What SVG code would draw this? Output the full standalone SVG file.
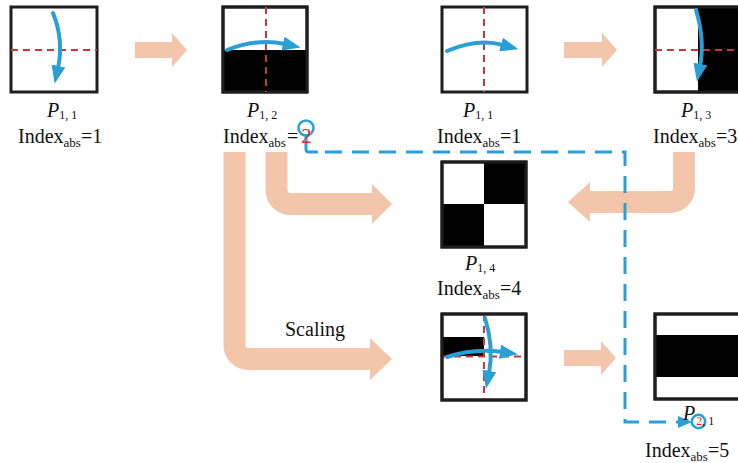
<svg xmlns="http://www.w3.org/2000/svg" width="738" height="463" viewBox="0 0 738 463">
<style>
.box{fill:#fff;stroke:#1e1e1e;stroke-width:3}
.blk{fill:#000}
.red{stroke:#c23a3e;stroke-width:2;stroke-dasharray:7 5;fill:none}
.barr{fill:none;stroke:#2a9fd6;stroke-width:4;stroke-linecap:round}
.peach{fill:#f3c6ab}
.pstroke{fill:none;stroke:#f3c6ab;stroke-width:22}
.t{font-family:'Liberation Serif','Times New Roman',serif;font-size:20px;fill:#111}
.sub{font-size:13px}
.psub{font-size:12px}
.it{font-style:italic}
.r{fill:#ff1a1a}
.conn{fill:none;stroke:#2a9fd6;stroke-width:3}
</style>
<defs>
<marker id="bh" markerUnits="userSpaceOnUse" markerWidth="20" markerHeight="16" viewBox="0 -8 20 16" refX="2" refY="0" orient="auto">
<path d="M0,-7 L18,0 L0,7 z" fill="#2a9fd6"/>
</marker>
<marker id="ch" markerUnits="userSpaceOnUse" markerWidth="16" markerHeight="14" viewBox="0 -7 16 14" refX="0" refY="0" orient="auto">
<path d="M0,-6 L14,0 L0,6 z" fill="#2a9fd6"/>
</marker>
</defs>
<rect width="738" height="463" fill="#fff"/>

<g id="connectors">
<polygon class="peach" points="135,42 172,42 172,33 187,50 172,67 172,58 135,58"/>
<polygon class="peach" points="564,42 602,42 602,33 617,50 602,67 602,58 564,58"/>
<polygon class="peach" points="564,350 601,350 601,341 616,358 601,375 601,366 564,366"/>
<path class="pstroke" d="M234.5,152 V345 A14,14 0 0 0 248.5,359 H372"/>
<polygon class="peach" points="370,338 392,359 370,380"/>
<path class="pstroke" d="M276.5,152 V190 A14,14 0 0 0 290.5,204 H374"/>
<polygon class="peach" points="372,184 392,204 372,224"/>
<path class="pstroke" d="M684,152 V188 A14,14 0 0 1 670,202 H588"/>
<polygon class="peach" points="590,182 568,202 590,222"/>
<circle cx="306" cy="128" r="7.5" fill="none" stroke="#2a9fd6" stroke-width="2.5"/>
<path class="conn" d="M306,135.5 V149 Q306,152 309,152 H318"/>
<path class="conn" stroke-dasharray="17 10" d="M325,152 H625 V422 H678" marker-end="url(#ch)"/>
<circle cx="698.5" cy="421.5" r="6.7" fill="none" stroke="#2a9fd6" stroke-width="2.5"/>
</g>

<g id="node-p11-a">
<rect class="box" x="11" y="7" width="86" height="85"/>
<line class="red" x1="11" y1="50" x2="97" y2="50"/>
<path class="barr" d="M53,13 Q64,40 58,68" marker-end="url(#bh)"/>
<text class="t" x="47" y="117"><tspan class="it">P</tspan><tspan class="psub" dy="2">1, 1</tspan></text>
<text class="t" x="18" y="143">Index<tspan class="sub" dy="4">abs</tspan><tspan dy="-4">=1</tspan></text>
</g>

<g id="node-p12">
<rect class="box" x="223" y="7" width="84" height="85"/>
<rect class="blk" x="223" y="50" width="84" height="42"/>
<rect x="223" y="7" width="84" height="85" fill="none" stroke="#1e1e1e" stroke-width="3"/>
<line class="red" x1="266" y1="7" x2="266" y2="92"/>
<path class="barr" d="M227,50 Q258,38 285,44" marker-end="url(#bh)"/>
<text class="t" x="247" y="117"><tspan class="it">P</tspan><tspan class="psub" dy="2">1, 2</tspan></text>
<text class="t" x="223" y="143">Index<tspan class="sub" dy="4">abs</tspan><tspan dy="-4" dx="1">=</tspan><tspan class="r" dx="3" style="font-size:21px">2</tspan></text>
</g>

<g id="node-p11-b">
<rect class="box" x="442" y="7" width="85" height="85"/>
<line class="red" x1="484" y1="7" x2="484" y2="92"/>
<path class="barr" d="M447,51 Q478,38 503,45" marker-end="url(#bh)"/>
<text class="t" x="463" y="117"><tspan class="it">P</tspan><tspan class="psub" dy="2">1, 1</tspan></text>
<text class="t" x="437" y="143">Index<tspan class="sub" dy="4">abs</tspan><tspan dy="-4">=1</tspan></text>
</g>

<g id="node-p13">
<rect class="box" x="655" y="7" width="95" height="85"/>
<rect class="blk" x="698" y="7" width="52" height="85"/>
<rect x="655" y="7" width="95" height="85" fill="none" stroke="#1e1e1e" stroke-width="3"/>
<line class="red" x1="655" y1="50" x2="738" y2="50"/>
<path class="barr" d="M696,10 Q705,40 700,66" marker-end="url(#bh)"/>
<text class="t" x="681" y="117"><tspan class="it">P</tspan><tspan class="psub" dy="2">1, 3</tspan></text>
<text class="t" x="653" y="143">Index<tspan class="sub" dy="4">abs</tspan><tspan dy="-4">=3</tspan></text>
</g>

<g id="node-p14">
<rect class="box" x="442" y="162" width="84" height="85"/>
<rect class="blk" x="484" y="162" width="42" height="42"/>
<rect class="blk" x="442" y="204" width="42" height="43"/>
<rect x="442" y="162" width="84" height="85" fill="none" stroke="#1e1e1e" stroke-width="3"/>
<text class="t" x="465" y="270"><tspan class="it">P</tspan><tspan class="psub" dy="2">1, 4</tspan></text>
<text class="t" x="437" y="295">Index<tspan class="sub" dy="4">abs</tspan><tspan dy="-4">=4</tspan></text>
</g>

<g id="node-scaling">
<text class="t" x="285" y="336">Scaling</text>
<rect class="box" x="442" y="314" width="84" height="86"/>
<rect class="blk" x="442" y="337" width="42" height="19"/>
<line class="red" x1="484" y1="314" x2="484" y2="400" stroke-width="1.6"/>
<line class="red" x1="442" y1="356.5" x2="526" y2="356.5" stroke-width="1.6"/>
<rect x="442" y="314" width="84" height="86" fill="none" stroke="#1e1e1e" stroke-width="3"/>
<path class="barr" stroke-width="3.2" d="M447,357 Q475,348 502,352" marker-end="url(#bh)"/>
<path class="barr" stroke-width="3.2" d="M485,318 Q494,347 489,373" marker-end="url(#bh)"/>
</g>

<g id="node-p21">
<rect class="box" x="655" y="314" width="95" height="85"/>
<rect class="blk" x="655" y="335" width="95" height="42"/>
<rect x="655" y="314" width="95" height="85" fill="none" stroke="#1e1e1e" stroke-width="3"/>
<text class="t" x="683" y="420"><tspan class="it">P</tspan><tspan class="psub r" dy="5" dx="1">2</tspan><tspan class="psub">, 1</tspan></text>
<text class="t" x="645" y="457">Index<tspan class="sub" dy="4">abs</tspan><tspan dy="-4">=5</tspan></text>
</g>
</svg>
